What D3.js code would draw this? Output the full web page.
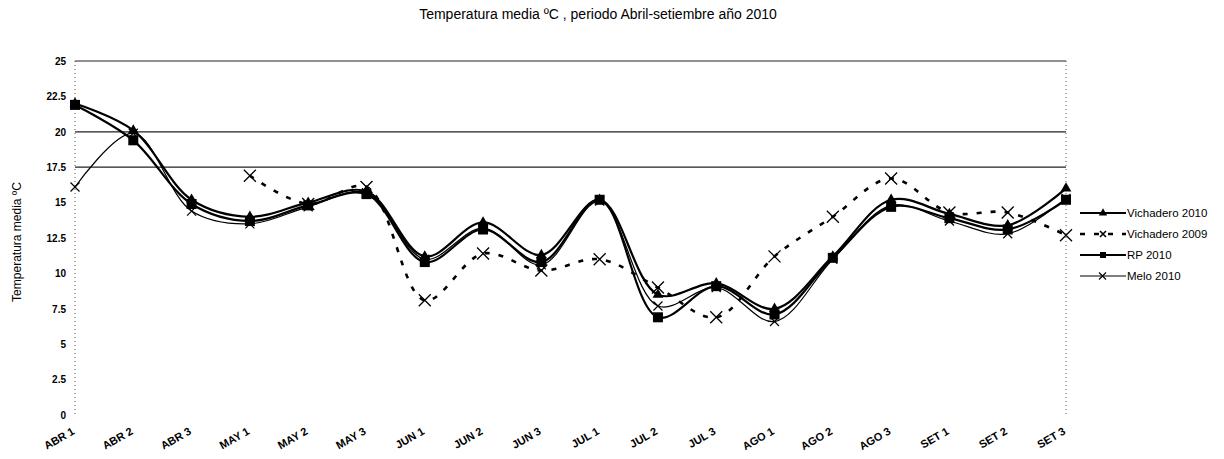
<!DOCTYPE html>
<html>
<head>
<meta charset="utf-8">
<script src="https://cdn.jsdelivr.net/npm/d3@7"></script>
<style>
  body { margin: 0; background: #fff; }
  text { font-family: "Liberation Sans", Arial, sans-serif; fill: #000; }
</style>
</head>
<body>
<div id="chart"></div>
<script>
// categories (tercios de cada mes)
let categories = ["ABR 1", "ABR 2", "ABR 3", "MAY 1", "MAY 2", "MAY 3", "JUN 1", "JUN 2", "JUN 3",
    "JUL 1", "JUL 2", "JUL 3", "AGO 1", "AGO 2", "AGO 3", "SET 1", "SET 2", "SET 3"];

let vichadero2010 = [22.0, 20.1, 15.2, 14.0, 15.0, 15.8, 11.2, 13.6, 11.3, 15.2, 8.5, 9.3, 7.5, 11.2, 15.2, 14.2, 13.4, 16.0];
let vichadero2009 = [null, null, null, 16.9, 14.9, 16.1, 8.1, 11.4, 10.2, 11.0, 9.0, 6.9, 11.2, 14.0, 16.7, 14.3, 14.3, 12.7];
let rp2010 = [21.9, 19.4, 14.9, 13.7, 14.8, 15.6, 10.8, 13.1, 10.8, 15.2, 6.9, 9.1, 7.1, 11.1, 14.7, 13.9, 13.1, 15.2];
let melo2010 = [16.1, 19.9, 14.4, 13.5, 14.7, 15.7, 11.0, 13.2, 10.6, 15.1, 7.7, 9.0, 6.6, 11.0, 14.8, 13.7, 12.8, 15.3];

let yTicks = [0, 2.5, 5, 7.5, 10, 12.5, 15, 17.5, 20, 22.5, 25];
let gridValues = [17.5, 20, 25];

let seriesNames = ["Vichadero 2010", "Vichadero 2009", "RP 2010", "Melo 2010"];

function drawChart() {
    let width = 1224;
    let height = 459;
    let left = 75, right = 1066, top = 61, bottom = 415;

    let chart = d3.select("#chart").append("svg")
        .attr("width", width).attr("height", height)

    let xscale = d3.scalePoint()
        .domain(categories)
        .range([left, right])

    let yscale = d3.scaleLinear()
        .domain([0, 25])
        .range([bottom, top])

    // title
    chart.append("text")
        .attr("x", 598).attr("y", 19)
        .style("text-anchor", "middle")
        .style("font-size", "14px")
        .text("Temperatura media ºC , periodo Abril-setiembre año 2010");

    // gridlines
    chart.selectAll(".grid").data(gridValues).enter().append("line")
        .attr("x1", left).attr("x2", right)
        .attr("y1", d => yscale(d)).attr("y2", d => yscale(d))
        .style("stroke", "#222").style("stroke-width", 1.2)

    // dotted side lines
    chart.append("line").attr("x1", left).attr("x2", left).attr("y1", top).attr("y2", bottom)
        .style("stroke", "#555").style("stroke-dasharray", "1,3")
    chart.append("line").attr("x1", right).attr("x2", right).attr("y1", top).attr("y2", bottom)
        .style("stroke", "#555").style("stroke-dasharray", "1,3")

    // y axis
    let yAxis = chart.append("g")
        .attr("transform", "translate(" + left + ",0)")
        .call(d3.axisLeft(yscale).tickValues(yTicks).tickSize(0).tickPadding(9)
            .tickFormat(d => String(d)))
    yAxis.select(".domain").remove()
    yAxis.selectAll("text")
        .style("font-size", "10px").style("font-weight", "bold")
        .style("font-family", "'Liberation Sans', Arial, sans-serif")

    chart.append("text")
        .attr("transform", "translate(21," + 242 + ") rotate(-90)")
        .style("text-anchor", "middle")
        .style("font-size", "12px")
        .text("Temperatura media ºC");

    // x axis labels
    let xAxis = chart.append("g")
        .attr("transform", "translate(0," + bottom + ")")
        .call(d3.axisBottom(xscale).tickSize(0).tickPadding(0))
    xAxis.select(".domain").remove()
    xAxis.selectAll("text")
        .attr("transform", "translate(-2,15) rotate(-30)")
        .attr("dy", "0.35em")
        .attr("y", 0)
        .style("text-anchor", "end")
        .style("font-size", "11px").style("font-weight", "bold")
        .style("font-family", "'Liberation Sans', Arial, sans-serif")

    function drawLine(values, width, dash) {
        let firstIdx = values.findIndex(v => v != null);
        let sub = values.slice(firstIdx);
        let l = d3.line()
            .x((d, i) => xscale(categories[i + firstIdx]))
            .y(d => yscale(d))
            .curve(d3.curveCatmullRom.alpha(0.5))
        chart.append("path")
            .attr("d", l(sub))
            .style("fill", "none")
            .style("stroke", "#000")
            .style("stroke-width", width)
            .style("stroke-dasharray", dash || null)
    }

    drawLine(vichadero2009, 2.6, "5,9")
    drawLine(melo2010, 1.2)
    drawLine(vichadero2010, 2.2)
    drawLine(rp2010, 2.2)

    let pts = (arr) => arr.map((v, i) => ({ c: categories[i], v: v })).filter(d => d.v != null);

    // Vichadero 2009 markers: large x
    chart.selectAll(".m09").data(pts(vichadero2009)).enter().append("path")
        .attr("transform", d => "translate(" + xscale(d.c) + "," + yscale(d.v) + ")")
        .attr("d", "M-6,-6L6,6M-6,6L6,-6")
        .style("stroke", "#000").style("stroke-width", 1.3)

    // Melo markers: small x
    chart.selectAll(".mmelo").data(pts(melo2010)).enter().append("path")
        .attr("transform", d => "translate(" + xscale(d.c) + "," + yscale(d.v) + ")")
        .attr("d", "M-4.5,-4.5L4.5,4.5M-4.5,4.5L4.5,-4.5")
        .style("stroke", "#000").style("stroke-width", 1.2)

    // Vichadero 2010: triangles
    chart.selectAll(".mv10").data(pts(vichadero2010)).enter().append("path")
        .attr("transform", d => "translate(" + xscale(d.c) + "," + yscale(d.v) + ")")
        .attr("d", d3.symbol(d3.symbolTriangle, 50))
        .style("fill", "#000")

    // RP 2010: squares
    chart.selectAll(".mrp").data(pts(rp2010)).enter().append("rect")
        .attr("x", d => xscale(d.c) - 5).attr("y", d => yscale(d.v) - 5)
        .attr("width", 10).attr("height", 10)
        .style("fill", "#000")

    // legend
    let legend = chart.append("g").attr("transform", "translate(1080,213)")
    let rows = [
        { name: seriesNames[0], w: 2.2, dash: null, mark: "tri" },
        { name: seriesNames[1], w: 2.6, dash: "5,9", mark: "bigx" },
        { name: seriesNames[2], w: 2.2, dash: null, mark: "sq" },
        { name: seriesNames[3], w: 1.2, dash: null, mark: "x" }
    ];
    rows.forEach((r, i) => {
        let g = legend.append("g").attr("transform", "translate(0," + (i * 21) + ")")
        g.append("line").attr("x1", 0).attr("x2", 46).attr("y1", 0).attr("y2", 0)
            .style("stroke", "#000").style("stroke-width", r.w)
            .style("stroke-dasharray", r.dash)
        if (r.mark == "tri") g.append("path").attr("transform", "translate(23,0)")
            .attr("d", d3.symbol(d3.symbolTriangle, 30)).style("fill", "#000")
        if (r.mark == "sq") g.append("rect").attr("x", 20).attr("y", -3).attr("width", 6).attr("height", 6).style("fill", "#000")
        if (r.mark == "x") g.append("path").attr("d", "M19,-3.5L26,3.5M19,3.5L26,-3.5").style("stroke", "#000").style("stroke-width", 1.1)
        if (r.mark == "bigx") g.append("path").attr("d", "M20,-3L26,3M20,3L26,-3").style("stroke", "#000").style("stroke-width", 1.6)
        g.append("text").attr("x", 47).attr("y", 0).attr("dy", "0.35em")
            .style("font-size", "11.5px")
            .text(r.name)
    })
}

drawChart()
</script>
</body>
</html>
